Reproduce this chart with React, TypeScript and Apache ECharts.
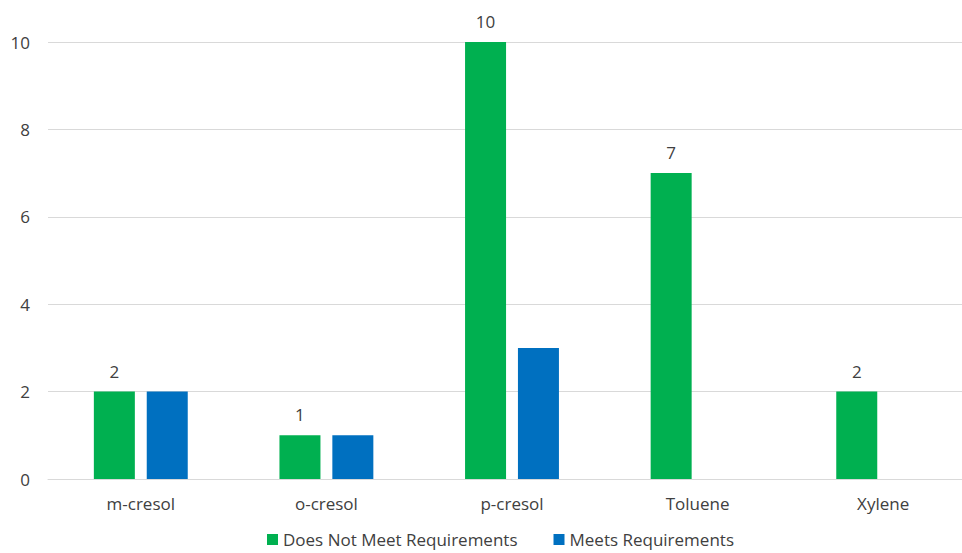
import React, { useEffect, useRef } from "react";
import * as echarts from "echarts";

const categories = ["m-cresol", "o-cresol", "p-cresol", "Toluene", "Xylene"];
const doesNotMeet = [2, 1, 10, 7, 2];
const meets = [2, 1, 3, null, null];
const seriesNames = ["Does Not Meet Requirements", "Meets Requirements"];

export default function App() {
  const ref = useRef<HTMLDivElement>(null);
  useEffect(() => {
    document.body.style.margin = "0";
    const chart = echarts.init(ref.current!, null, { renderer: "svg" });
    const font = "'Open Sans', 'Noto Sans', sans-serif";
    chart.setOption({
      animation: false,
      textStyle: { fontFamily: font },
      grid: {
        left: 48,
        width: 928,
        top: 42,
        height: 437,
        containLabel: false,
        outerBoundsMode: "none",
      },
      legend: {
        top: 526,
        left: 262,
        itemWidth: 11,
        itemHeight: 11,
        itemGap: 36,
        icon: "rect",
        textStyle: { fontSize: 17, color: "#404040", fontFamily: font },
        data: seriesNames,
      },
      xAxis: {
        type: "category",
        data: categories,
        axisLine: { lineStyle: { color: "#d9d9d9" } },
        axisTick: { show: false },
        axisLabel: { fontSize: 17, color: "#404040", margin: 16 },
      },
      yAxis: {
        type: "value",
        min: 0,
        max: 10,
        interval: 2,
        axisLine: { show: false },
        axisTick: { show: false },
        splitLine: { lineStyle: { color: "#d9d9d9", width: 1 } },
        axisLabel: { fontSize: 17, color: "#404040", margin: 18 },
      },
      series: [
        {
          name: seriesNames[0],
          type: "bar",
          data: doesNotMeet,
          barWidth: 41,
          barGap: "29%",
          itemStyle: { color: "#00B050" },
          label: { show: true, position: "top", distance: 12, fontSize: 17, color: "#404040" },
        },
        {
          name: seriesNames[1],
          type: "bar",
          data: meets,
          barWidth: 41,
          itemStyle: { color: "#0070C0" },
        },
      ],
    });
    return () => chart.dispose();
  }, []);
  return <div ref={ref} style={{ width: 962, height: 553 }} />;
}
